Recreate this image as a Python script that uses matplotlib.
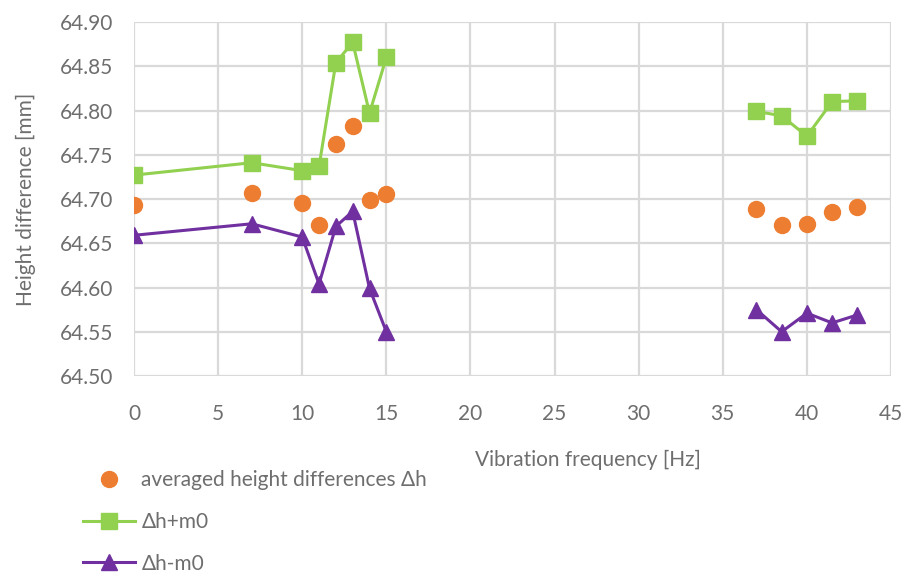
import numpy as np
import matplotlib
matplotlib.use("Agg")
import matplotlib.pyplot as plt


freq = [0, 7, 10, 11, 12, 13, 14, 15, 37, 38.5, 40, 41.5, 43]

avg_dh = [64.693, 64.707, 64.695, 64.671, 64.762, 64.782, 64.699, 64.706,
          64.689, 64.671, 64.672, 64.685, 64.691]

dh_plus = [64.727, 64.741, 64.732, 64.737, 64.854, 64.877, 64.797, 64.860,
           64.799, 64.794, 64.771, 64.810, 64.811]

dh_minus = [64.659, 64.672, 64.657, 64.604, 64.669, 64.686, 64.599, 64.550,
            64.575, 64.550, 64.571, 64.560, 64.569]

x_ticks = [0, 5, 10, 15, 20, 25, 30, 35, 40, 45]
y_ticks = [64.50, 64.55, 64.60, 64.65, 64.70, 64.75, 64.80, 64.85, 64.90]

plt.rcParams['font.family'] = ['Lato', 'DejaVu Sans']
text_color = "#6e6e6e"
grid_color = "#d9d9d9"
fs = 15

fig = plt.figure(figsize=(9.06, 5.76), dpi=100)
ax = fig.add_axes([134 / 906, 1 - 376 / 576, 757 / 906, 354 / 576])

# split the series so the gap between 15 and 37 Hz is not joined
left = slice(0, 8)
right = slice(8, None)

f = np.array(freq)
for part in (left, right):
    ax.plot(f[part], np.array(dh_plus)[part], color="#92d050", lw=2.2,
            marker="s", markersize=11.5)
    ax.plot(f[part], np.array(dh_minus)[part], color="#7030a0", lw=2.2,
            marker="^", markersize=11)
ax.plot(freq, avg_dh, linestyle="none", color="#ed7d31", marker="o",
        markersize=11.5)

# legend handles
h1, = ax.plot([], [], linestyle="none", color="#ed7d31", marker="o", markersize=11.5)
h2, = ax.plot([], [], color="#92d050", lw=2.2, marker="s", markersize=11.5)
h3, = ax.plot([], [], color="#7030a0", lw=2.2, marker="^", markersize=11)

ax.set_xlim(0, 45)
ax.set_ylim(64.50, 64.90)
ax.set_xticks(x_ticks)
ax.set_yticks(y_ticks)
ax.set_yticklabels([f"{v:.2f}" for v in y_ticks])
ax.grid(True, color=grid_color, lw=1.6)
ax.set_axisbelow(True)
for side in ax.spines:
    ax.spines[side].set_visible(False)
ax.tick_params(length=0, labelsize=fs, labelcolor=text_color)
ax.tick_params(axis="x", pad=20)
ax.tick_params(axis="y", pad=15)

ax.set_xlabel("Vibration frequency [Hz]", fontsize=fs, color=text_color)
ax.xaxis.set_label_coords((588 - 134) / 757, (376 - 450) / 354)
ax.set_ylabel("Height difference [mm]", fontsize=fs, color=text_color)
ax.yaxis.set_label_coords((25 - 134) / 757 + 0.014, 0.5)

fig.legend([h1, h2, h3],
           ["averaged height differences Δh", "Δh+m0", "Δh-m0"],
           loc="upper left", bbox_to_anchor=(83 / 906, 1 - 470 / 576),
           frameon=False, fontsize=fs, labelcolor=text_color,
           borderpad=0, borderaxespad=0, handlelength=2.5,
           handletextpad=0.3, labelspacing=1.05)

fig.savefig("out.png", dpi=100)
